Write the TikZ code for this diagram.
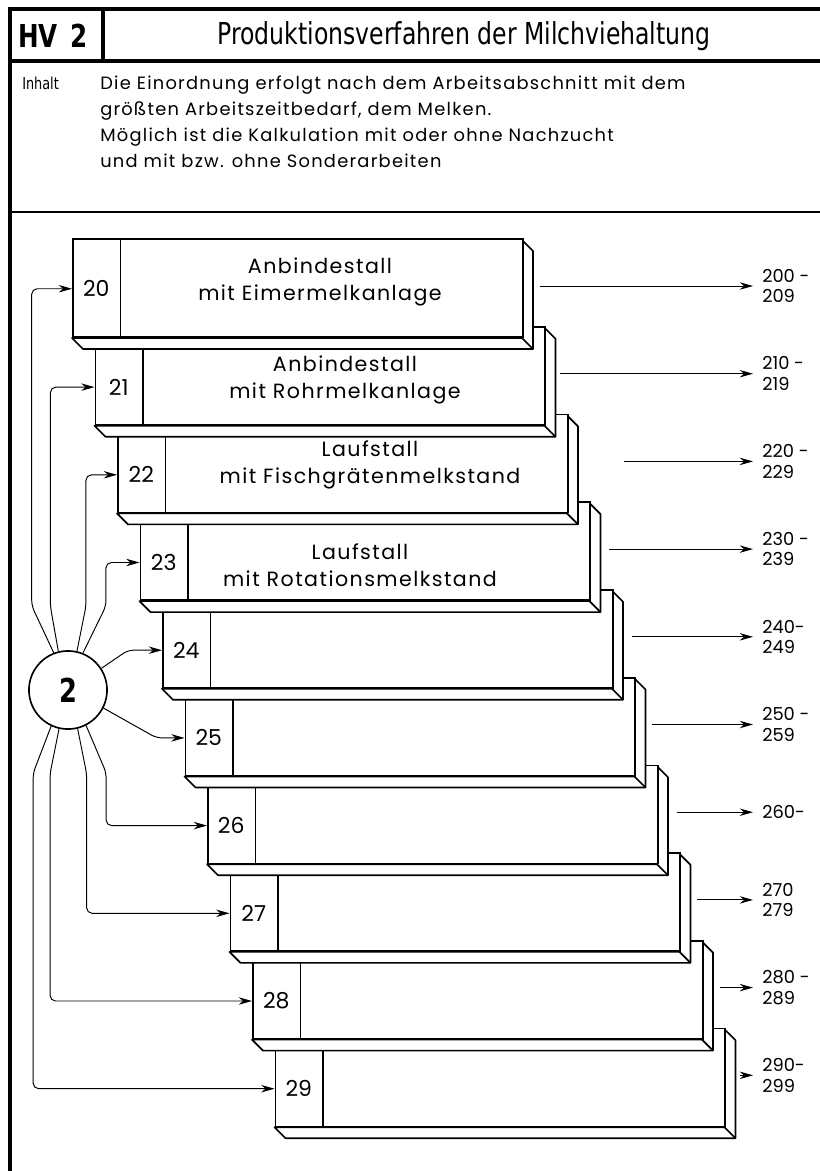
\documentclass[tikz,border=0pt]{standalone}
\usepackage{fontspec}
\setmainfont{Poppins}
\newfontfamily\narrowfont[FakeStretch=0.78]{DejaVu Sans}
\newfontfamily\widefont[LetterSpace=7]{Poppins}
\usetikzlibrary{arrows.meta,calc}

\tikzset{
  frame/.style={line width=2.6pt},
  rule/.style={line width=1.8pt},
  face/.style={draw, fill=white, line width=1.2pt, line join=round},
  front/.style={draw, fill=white, line width=1.2pt, minimum width=11.52cm, minimum height=2.5088cm, inner sep=0pt},
  cell/.style={minimum width=1.2288cm, inner sep=0pt, font=\fontsize{16}{18}\selectfont},
  boxtxt/.style={align=center, font=\widefont\fontsize{15}{20}\selectfont},
  lab/.style={align=left, inner sep=0pt, anchor=west, font=\fontsize{13}{15}\selectfont},
  conn/.style={line width=0.7pt, rounded corners=4pt, -{Stealth[length=3.4mm,width=1.9mm]}},
  arr/.style={line width=0.7pt, -{Stealth[length=3.4mm,width=1.9mm]}},
}

\begin{document}
\begin{tikzpicture}[x=0.0256cm,y=-0.0256cm]
\fill[white] (0,0) rectangle (820,1171);
\useasboundingbox (0,0) rectangle (820,1171);

% Rahmen und Kopf
\draw[frame] (10,1171) -- (10,9) -- (820,9);
\draw[frame] (10,61) -- (820,61);
\draw[frame] (103,9) -- (103,61);
\draw[rule] (10,212) -- (820,212);
\node[font=\narrowfont\bfseries\fontsize{23}{23}\selectfont] (hv) at (53,36) {HV\hspace{0.4em}2};
\node[font=\narrowfont\fontsize{22}{26}\selectfont] (title) at (464,36) {Produktionsverfahren der Milchviehaltung};
\node[font=\narrowfont\fontsize{12}{14}\selectfont, anchor=base west, inner sep=0pt] (inh) at (22,89) {Inhalt};
\node[anchor=north west, inner sep=0pt, align=left, font=\widefont\fontsize{13}{18.9}\selectfont] (inhalt) at (100,76)
  {Die Einordnung erfolgt nach dem Arbeitsabschnitt mit dem\\
   größten Arbeitszeitbedarf, dem Melken.\\
   Möglich ist die Kalkulation mit oder ohne Nachzucht\\
   und mit bzw. ohne Sonderarbeiten};

% Kaesten, von unten nach oben
\foreach \i/\gap/\lab in {9/14/{290-\\299}, 8/16/{280 -\\289}, 7/16/{270\\279}, 6/18/{260-},
    5/16/{250 -\\259}, 4/18/{240-\\249}, 3/18/{230 -\\239}, 2/55/{220 -\\229},
    1/14/{210 -\\219}, 0/16/{200 -\\209}} {
  \pgfmathsetmacro{\bx}{72+22.5*\i}
  \pgfmathsetmacro{\by}{338+87.7*\i}
  \pgfmathsetmacro{\vh}{\i==0 ? 2.5088 : 1.963}
  \draw[face] (\bx,\by) -- ++(11,11) -- ++(450,0) -- ++(0,-98) -- ++(-11,-11) -- ++(0,98) -- cycle;
  \draw[line width=1.2pt] (\bx,\by) ++(450,0) -- ++(11,11);
  \node[front, anchor=south west] (b2\i) at (\bx,\by) {};
  \node[cell, anchor=south west, minimum height=\vh cm] (n2\i) at (\bx,\by) {2\i};
  \draw[line width=1.2pt] (n2\i.north east) -- (n2\i.south east);
  \node[lab] (r2\i) at (762,\by-52) {\lab};
  \draw[arr] ($(r2\i.west -| b2\i.east)+(\gap,0)$) -- ([xshift=-0.23cm]r2\i.west);
}

\node[boxtxt] (t20) at (320,282) {Anbindestall\\mit Eimermelkanlage};
\node[boxtxt] (t21) at (345,380) {Anbindestall\\mit Rohrmelkanlage};
\node[boxtxt] (t22) at (370,465) {Laufstall\\mit Fischgrätenmelkstand};
\node[boxtxt] (t23) at (360,565) {Laufstall\\mit Rotationsmelkstand};

% Verteiler
\node[circle, draw, line width=1.2pt, minimum size=2cm, inner sep=0pt,
  font=\narrowfont\bfseries\fontsize{24}{24}\selectfont] (c2) at (68,690) {2};
\draw[conn] (c2.111) -- ++(-22,-47) |- (n20.west);
\draw[conn] (c2.104) -- ++(-8,-45) |- (n21.west);
\draw[conn] (c2.77) -- ++(9,-45) |- (n22.west);
\draw[conn] (c2.68) -- ++(23,-47) |- (n23.west);
\draw[conn] (c2.33) -- ($(n24.west)+(-34,0)$) -- (n24.west);
\draw[conn] (c2.-27) -- ($(n25.west)+(-28,0)$) -- (n25.west);
\draw[conn] (c2.-63) -- ++(20,47) |- (n26.west);
\draw[conn] (c2.-76) -- ++(9,45) |- (n27.west);
\draw[conn] (c2.-103) -- ++(-9,45) |- (n28.west);
\draw[conn] (c2.-115) -- ++(-18,47) |- (n29.west);
\end{tikzpicture}
\end{document}
